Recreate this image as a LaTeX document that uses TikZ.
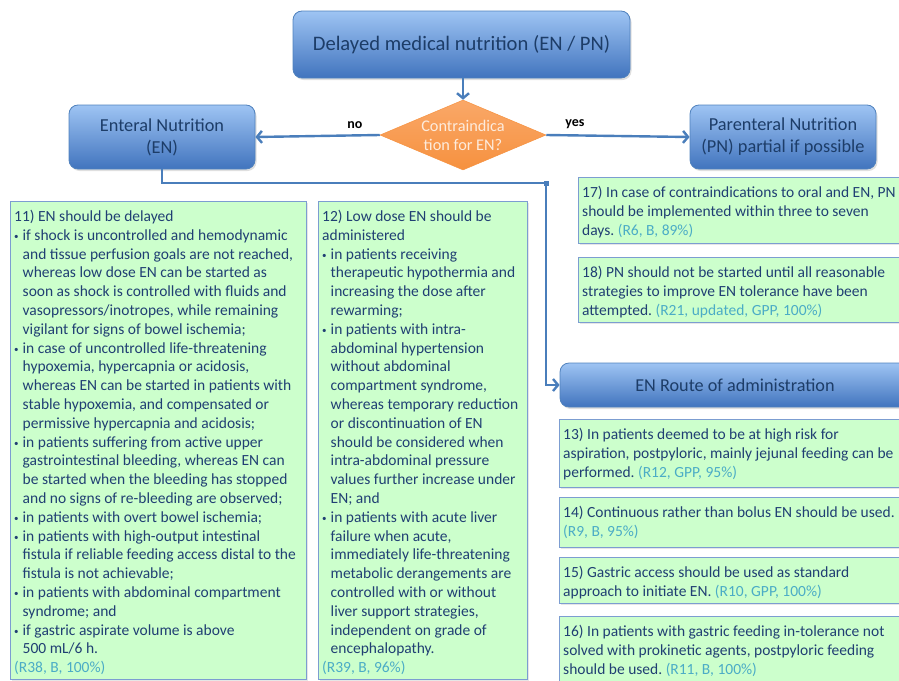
\documentclass[tikz,border=0pt]{standalone}
\usepackage{fontspec}
\setmainfont{Carlito}
\frenchspacing
\usetikzlibrary{shapes.geometric, arrows.meta, shadows, calc}

\definecolor{boxedge}{HTML}{4F81BD}
\definecolor{topblue}{HTML}{9EC4F3}
\definecolor{botblue}{HTML}{4174BE}
\definecolor{titlec}{HTML}{1D3D68}
\definecolor{txtnavy}{HTML}{203F73}
\definecolor{recgreen}{HTML}{CCFFCC}
\definecolor{recline}{HTML}{7C9DD1}
\definecolor{refteal}{HTML}{4BACC6}
\definecolor{connblue}{HTML}{4A7EBB}
\definecolor{orangetop}{HTML}{FAA868}
\definecolor{orangebot}{HTML}{F6913F}
\definecolor{diatxt}{HTML}{FDEBDC}

\newcommand{\blt}{\makebox[8.5pt][l]{\raisebox{1pt}{\small\textbullet}}}
\newcommand{\hng}{\hspace*{8.5pt}}
\newcommand{\rf}[1]{\textcolor{refteal}{#1}}

\tikzset{
	bluebox/.style={rectangle, rounded corners=9pt, draw=boxedge, line width=0.8pt,
		top color=topblue, bottom color=botblue, text=titlec, align=center,
		drop shadow={opacity=0.25, shadow xshift=1.5pt, shadow yshift=-2pt}},
	decision/.style={diamond, minimum width=166pt, minimum height=70pt, inner sep=0pt,
		top color=orangetop, bottom color=orangebot, draw=orangebot, line width=0.5pt},
	diatext/.style={align=center, text=diatxt, font=\fontsize{16.3}{19}\selectfont},
	rec/.style={rectangle, draw=recline, line width=1.2pt, fill=recgreen, anchor=north west,
		inner sep=0pt, drop shadow={opacity=0.2, shadow xshift=1.5pt, shadow yshift=-1.5pt}},
	rectext/.style={anchor=north west, align=left, inner xsep=4pt, inner ysep=9pt,
		text=txtnavy, font=\fontsize{15.5}{18.8}\selectfont},
	conn/.style={draw=connblue, line width=2.4pt},
	arr/.style={conn, -{Straight Barb[length=5pt,width=12pt]}},
	lab/.style={font=\bfseries\fontsize{14}{16}\selectfont}
}

\begin{document}
\begin{tikzpicture}[x=1pt, y=-1pt]
	\useasboundingbox (0,0) rectangle (899,680);
	\clip (0,0) rectangle (899,680);

	\node[bluebox, minimum width=337pt, minimum height=67pt, font=\fontsize{20.6}{24}\selectfont] (top) at (461.5,44.5) {Delayed medical nutrition (EN / PN)};
	\node[decision] (dia) at (463,135) {};
	\node[diatext] (diat) at (dia) {Contraindica\\tion for EN?};
	\node[bluebox, minimum width=186pt, minimum height=64pt, font=\fontsize{18.3}{22}\selectfont] (en) at (162,137) {Enteral Nutrition\\(EN)};
	\node[bluebox, minimum width=186pt, minimum height=64pt, font=\fontsize{18.3}{22}\selectfont] (pn) at (783,137) {Parenteral Nutrition\\(PN) partial if possible};
	\node[bluebox, minimum width=350pt, minimum height=44pt, font=\fontsize{18.2}{22}\selectfont] (route) at (735,385) {EN Route of administration};

	\draw[arr] (top.south -| dia.north) -- (dia.north);
	\draw[arr] (dia.west) -- node[lab, above=2pt, pos=0.2] {no} (en.east);
	\draw[arr] (dia.east) -- node[lab, above=2pt, pos=0.2] {yes} (pn.west);

	\coordinate (bend) at (546,183);
	\draw[arr] (en.south) |- (bend) |- (route.west);
	\fill[connblue] ($(bend)+(-2.5,-2.5)$) rectangle ($(bend)+(2.5,2.5)$);

	% left column
	\node[rec, minimum width=296pt, minimum height=478pt] (r11) at (10,201) {};
	\node[rectext] (t11) at (r11.north west) {11) EN should be delayed\\
		\blt if shock is uncontrolled and hemodynamic\\
		\hng and tissue perfusion goals are not reached,\\
		\hng whereas low dose EN can be started as\\
		\hng soon as shock is controlled with fluids and\\
		\hng vasopressors/inotropes, while remaining\\
		\hng vigilant for signs of bowel ischemia;\\
		\blt in case of uncontrolled life-threatening\\
		\hng hypoxemia, hypercapnia or acidosis,\\
		\hng whereas EN can be started in patients with\\
		\hng stable hypoxemia, and compensated or\\
		\hng permissive hypercapnia and acidosis;\\
		\blt in patients suffering from active upper\\
		\hng gastrointestinal bleeding, whereas EN can\\
		\hng be started when the bleeding has stopped\\
		\hng and no signs of re-bleeding are observed;\\
		\blt in patients with overt bowel ischemia;\\
		\blt in patients with high-output intestinal\\
		\hng fistula if reliable feeding access distal to the\\
		\hng fistula is not achievable;\\
		\blt in patients with abdominal compartment\\
		\hng syndrome; and\\
		\blt if gastric aspirate volume is above\\
		\hng 500 mL/6 h.\\
		\rf{(R38, B, 100\%)}};

	\node[rec, minimum width=209pt, minimum height=478pt] (r12) at (318,201) {};
	\node[rectext] (t12) at (r12.north west) {12) Low dose EN should be\\
		administered\\
		\blt in patients receiving\\
		\hng therapeutic hypothermia and\\
		\hng increasing the dose after\\
		\hng rewarming;\\
		\blt in patients with intra-\\
		\hng abdominal hypertension\\
		\hng without abdominal\\
		\hng compartment syndrome,\\
		\hng whereas temporary reduction\\
		\hng or discontinuation of EN\\
		\hng should be considered when\\
		\hng intra-abdominal pressure\\
		\hng values further increase under\\
		\hng EN; and\\
		\blt in patients with acute liver\\
		\hng failure when acute,\\
		\hng immediately life-threatening\\
		\hng metabolic derangements are\\
		\hng controlled with or without\\
		\hng liver support strategies,\\
		\hng independent on grade of\\
		\hng encephalopathy.\\
		\rf{(R39, B, 96\%)}};

	% right column
	\node[rec, minimum width=340pt, minimum height=66pt] (r17) at (578,177) {};
	\node[rectext] (t17) at (r17.north west) {17) In case of contraindications to oral and EN, PN\\
		should be implemented within three to seven\\
		days. \rf{(R6, B, 89\%)}};
	\node[rec, minimum width=340pt, minimum height=65pt] (r18) at (578,257) {};
	\node[rectext] (t18) at (r18.north west) {18) PN should not be started until all reasonable\\
		strategies to improve EN tolerance have been\\
		attempted. \rf{(R21, updated, GPP, 100\%)}};

	\node[rec, minimum width=360pt, minimum height=68pt] (r13) at (559,419) {};
	\node[rectext] (t13) at (r13.north west) {13) In patients deemed to be at high risk for\\
		aspiration, postpyloric, mainly jejunal feeding can be\\
		performed. \rf{(R12, GPP, 95\%)}};
	\node[rec, minimum width=360pt, minimum height=50pt] (r14) at (559,497) {};
	\node[rectext] (t14) at (r14.north west) {14) Continuous rather than bolus EN should be used.\\
		\rf{(R9, B, 95\%)}};
	\node[rec, minimum width=360pt, minimum height=46pt] (r15) at (559,557) {};
	\node[rectext] (t15) at (r15.north west) {15) Gastric access should be used as standard\\
		approach to initiate EN. \rf{(R10, GPP, 100\%)}};
	\node[rec, minimum width=360pt, minimum height=70pt] (r16) at (559,616) {};
	\node[rectext] (t16) at (r16.north west) {16) In patients with gastric feeding in-tolerance not\\
		solved with prokinetic agents, postpyloric feeding\\
		should be used. \rf{(R11, B, 100\%)}};
\end{tikzpicture}
\end{document}
